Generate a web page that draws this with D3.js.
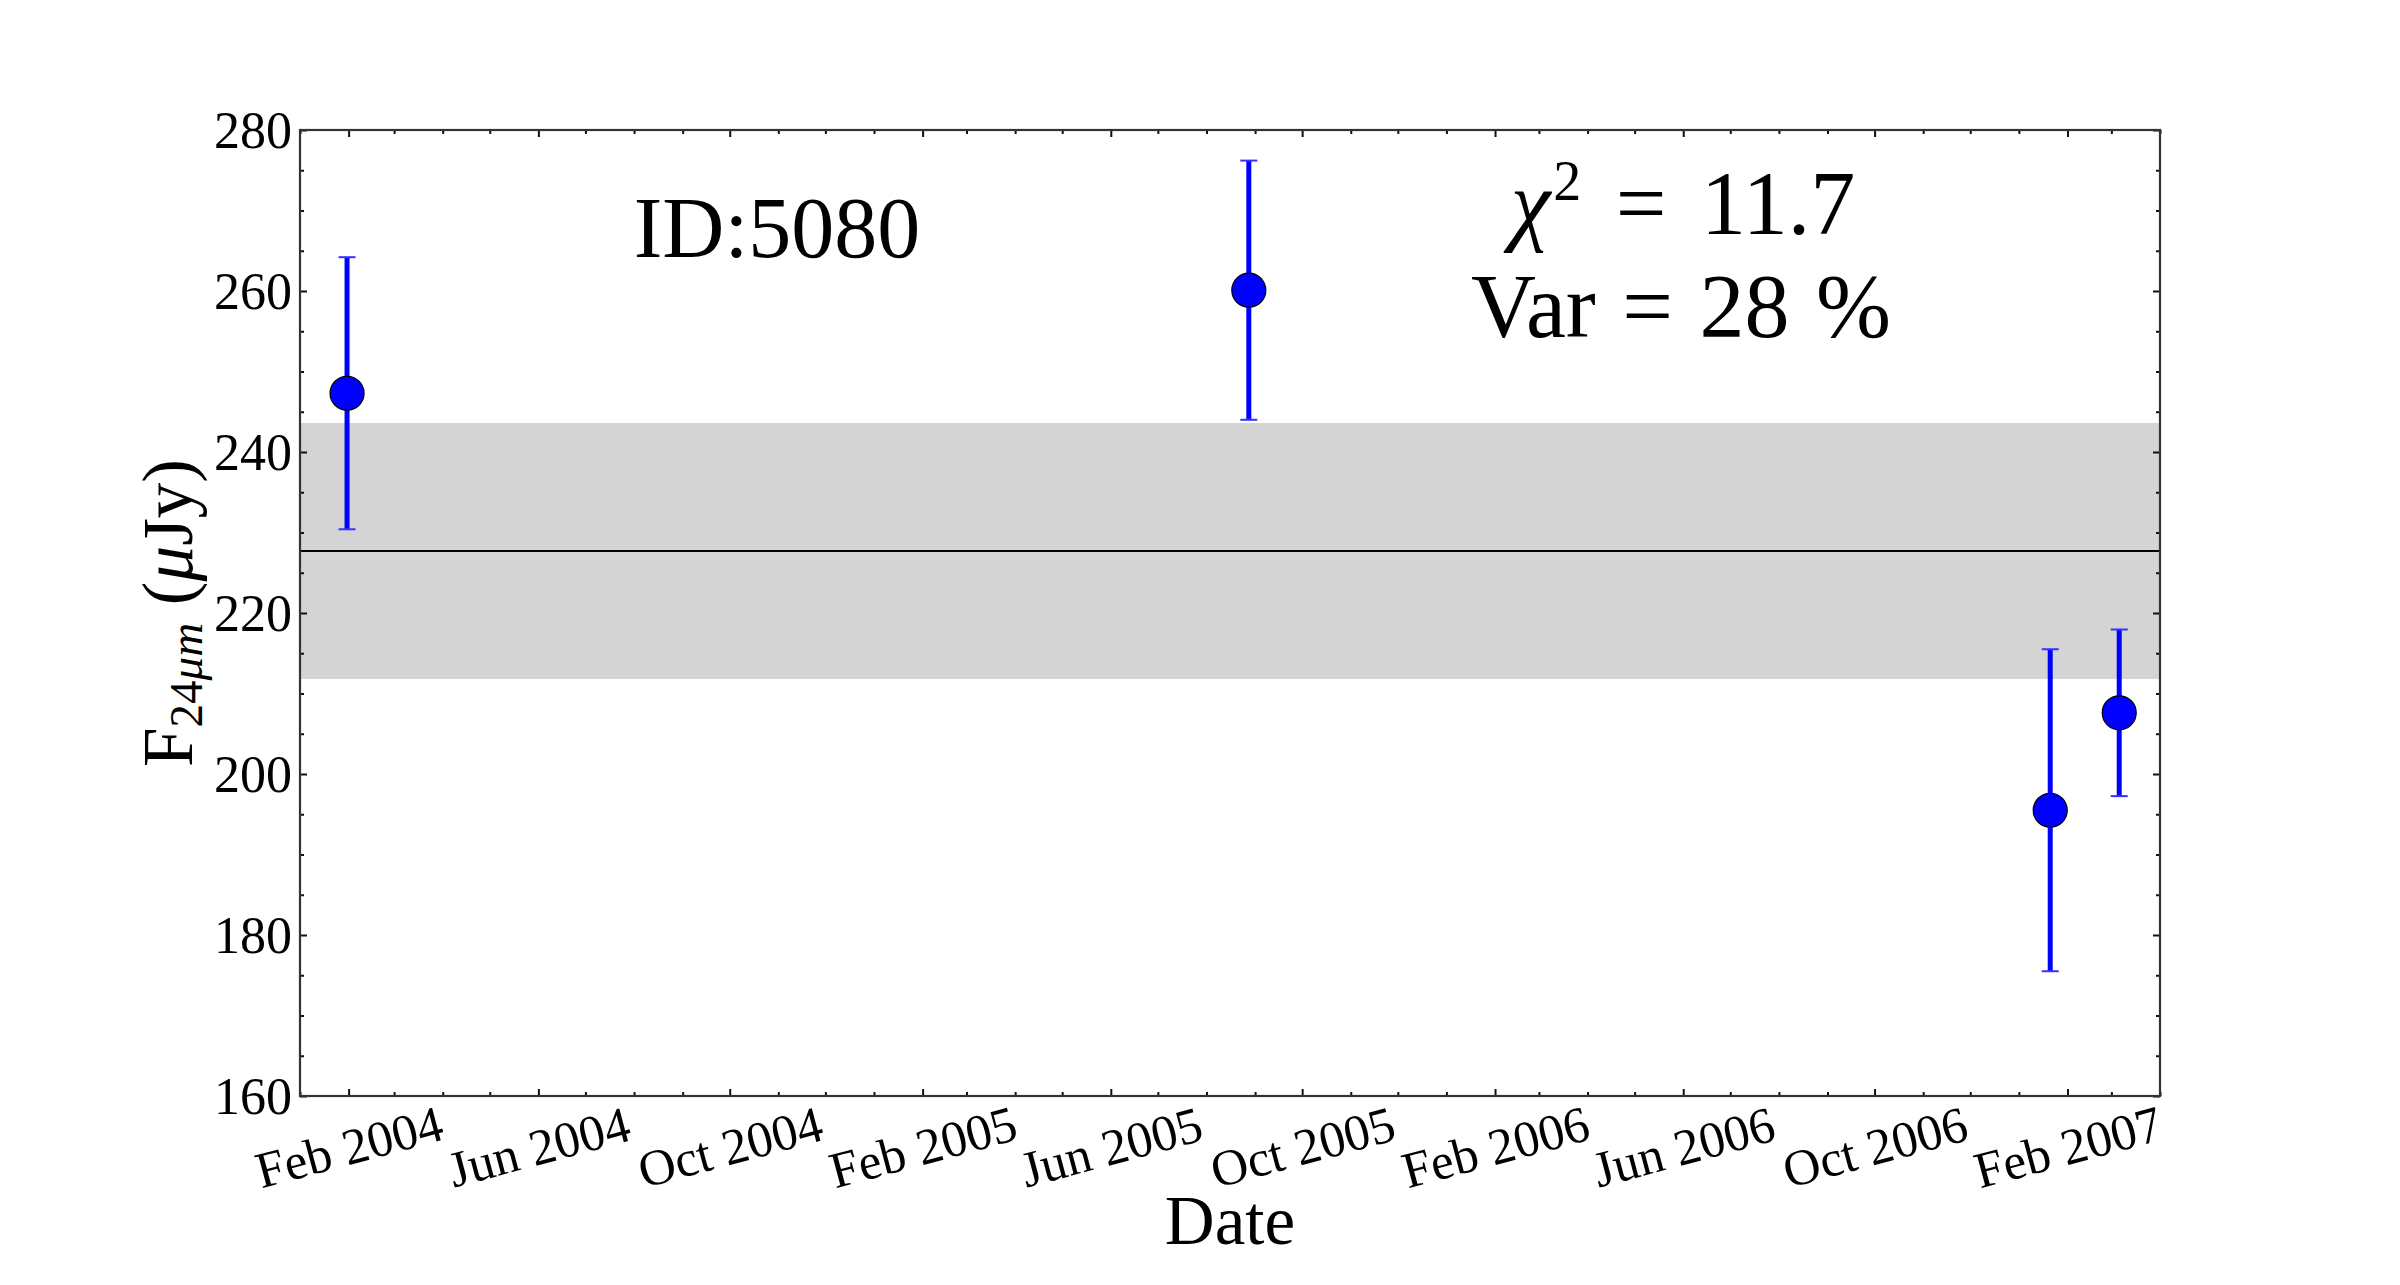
<!DOCTYPE html>
<html><head><meta charset="utf-8">
<script src="https://cdn.jsdelivr.net/npm/d3@7"></script>
<style>body{margin:0;background:#fff}svg{display:block}</style>
</head><body><svg id="chart" width="2400" height="1285"></svg>
<script>
// ---- data ----
const obsDates = ["2004-01-31", "2005-08-28", "2007-01-21", "2007-03-06"];
const flux = [247.3, 260.1, 195.5, 207.6];
const fluxErr = [16.9, 16.1, 20.0, 10.35];
const meanFlux = 227.7;
const meanBand = 15.9;
const xDomain = ["2004-01-01", "2007-04-01"];
const xTickDates = ["2004-02-01","2004-06-01","2004-10-01","2005-02-01","2005-06-01","2005-10-01","2006-02-01","2006-06-01","2006-10-01","2007-02-01"];
const xTickLabels = ["Feb 2004","Jun 2004","Oct 2004","Feb 2005","Jun 2005","Oct 2005","Feb 2006","Jun 2006","Oct 2006","Feb 2007"];
const yDomain = [160, 280];
const yTicks = [160, 180, 200, 220, 240, 260, 280];
const idLabel = "ID:5080";
const chi2Value = "11.7";
const varValue = "28";

// ---- layout ----
const FONT = "'Liberation Serif','Times New Roman',serif";
const L = 300, R = 2160, T = 130, B = 1096;
const svg = d3.select("#chart");
const parse = d3.utcParse("%Y-%m-%d");

const x = d3.scaleUtc().domain(xDomain.map(parse)).range([L, R]);
const y = d3.scaleLinear().domain(yDomain).range([B, T]);

const pts = obsDates.map((d, i) => ({date: parse(d), v: flux[i], e: fluxErr[i]}));

// band + mean line
svg.append("rect")
  .attr("x", L).attr("width", R - L)
  .attr("y", y(meanFlux + meanBand))
  .attr("height", y(meanFlux - meanBand) - y(meanFlux + meanBand))
  .attr("fill", "#d4d4d4");
svg.append("line")
  .attr("x1", L).attr("x2", R)
  .attr("y1", y(meanFlux)).attr("y2", y(meanFlux))
  .attr("stroke", "#000").attr("stroke-width", 2);

// error bars
const eb = svg.append("g");
eb.selectAll("line.bar").data(pts).join("line").attr("class", "bar")
  .attr("x1", d => x(d.date)).attr("x2", d => x(d.date))
  .attr("y1", d => y(d.v + d.e)).attr("y2", d => y(d.v - d.e))
  .attr("stroke", "#0000ff").attr("stroke-width", 5);
["top", "bot"].forEach(k => {
  eb.selectAll("line.cap" + k).data(pts).join("line").attr("class", "cap" + k)
    .attr("x1", d => x(d.date) - 8.5).attr("x2", d => x(d.date) + 8.5)
    .attr("y1", d => y(k === "top" ? d.v + d.e : d.v - d.e))
    .attr("y2", d => y(k === "top" ? d.v + d.e : d.v - d.e))
    .attr("stroke", "#3333ff").attr("stroke-width", 2);
});
svg.append("g").selectAll("circle").data(pts).join("circle")
  .attr("cx", d => x(d.date)).attr("cy", d => y(d.v)).attr("r", 17)
  .attr("fill", "#0000ff").attr("stroke", "#000").attr("stroke-width", 1.2);

// ---- axes ----
const majorSet = new Set(xTickDates);
const fmt = d3.utcFormat("%Y-%m-%d");
const xMinor = d3.utcMonths(x.domain()[0], d3.utcDay.offset(x.domain()[1], 1)).filter(d => !majorSet.has(fmt(d)));
const yMinor = d3.range(yDomain[0], yDomain[1] + 0.1, 5).filter(v => !yTicks.includes(v));
const xMajor = xTickDates.map(parse);

function styleAxis(g) {
  g.select(".domain").remove();
  g.selectAll("line").attr("stroke", "#111").attr("stroke-width", 2);
  g.attr("font-family", FONT);
}
// bottom
svg.append("g").attr("transform", `translate(0,${B})`)
  .call(d3.axisBottom(x).tickValues(xMinor).tickSize(-4).tickFormat("")).call(styleAxis);
const xb = svg.append("g").attr("transform", `translate(0,${B})`)
  .call(d3.axisBottom(x).tickValues(xMajor).tickSize(-7).tickFormat((d, i) => xTickLabels[i])).call(styleAxis);
xb.attr("font-size", 51);
xb.selectAll("text").attr("fill", "#000")
  .attr("x", 0).attr("y", 0).attr("dy", "0.34em")
  .attr("text-anchor", "middle")
  .attr("transform", "translate(0,51) rotate(-15)");
// top
svg.append("g").attr("transform", `translate(0,${T})`)
  .call(d3.axisTop(x).tickValues(xMinor).tickSize(-4).tickFormat("")).call(styleAxis);
svg.append("g").attr("transform", `translate(0,${T})`)
  .call(d3.axisTop(x).tickValues(xMajor).tickSize(-7).tickFormat("")).call(styleAxis);
// left
svg.append("g").attr("transform", `translate(${L},0)`)
  .call(d3.axisLeft(y).tickValues(yMinor).tickSize(-4).tickFormat("")).call(styleAxis);
const yl = svg.append("g").attr("transform", `translate(${L},0)`)
  .call(d3.axisLeft(y).tickValues(yTicks).tickSize(-7).tickPadding(8).tickFormat(d3.format("d"))).call(styleAxis);
yl.attr("font-size", 52);
yl.selectAll("text").attr("fill", "#000").attr("dy", "0.34em");
// right
svg.append("g").attr("transform", `translate(${R},0)`)
  .call(d3.axisRight(y).tickValues(yMinor).tickSize(-4).tickFormat("")).call(styleAxis);
svg.append("g").attr("transform", `translate(${R},0)`)
  .call(d3.axisRight(y).tickValues(yTicks).tickSize(-7).tickFormat("")).call(styleAxis);

// spines
svg.append("rect").attr("x", L).attr("y", T).attr("width", R - L).attr("height", B - T)
  .attr("fill", "none").attr("stroke", "#333").attr("stroke-width", 2.2);

// ---- labels ----
svg.append("text").attr("x", (L + R) / 2).attr("y", 1244)
  .attr("text-anchor", "middle").attr("font-family", FONT).attr("font-size", 69)
  .text("Date");

const ylab = svg.append("text")
  .attr("transform", `translate(192,${(T + B) / 2}) rotate(-90)`)
  .attr("text-anchor", "middle").attr("font-family", FONT).attr("font-size", 71);
ylab.append("tspan").text("F");
ylab.append("tspan").attr("font-size", 47).attr("dy", 10).text("24");
ylab.append("tspan").attr("font-size", 47).attr("font-style", "italic").text("μm");
ylab.append("tspan").attr("dy", -10).text("\u00a0(");
ylab.append("tspan").attr("font-style", "italic").text("μ");
ylab.append("tspan").text("Jy)");

svg.append("text").attr("x", 777).attr("y", 257)
  .attr("text-anchor", "middle").attr("font-family", FONT).attr("font-size", 86)
  .text(idLabel);

const chi = svg.append("text").attr("x", 1683).attr("y", 234)
  .attr("text-anchor", "middle").attr("font-family", FONT).attr("font-size", 90)
  .attr("word-spacing", 12);
chi.append("tspan").attr("font-style", "italic").text("χ");
chi.append("tspan").attr("font-size", 56).attr("dy", -34).attr("dx", 3).text("2");
chi.append("tspan").attr("dy", 34).text(" = " + chi2Value);

svg.append("text").attr("x", 1681).attr("y", 337)
  .attr("text-anchor", "middle").attr("font-family", FONT).attr("font-size", 90)
  .attr("word-spacing", 4)
  .text("Var = " + varValue + " %");
</script></body></html>
